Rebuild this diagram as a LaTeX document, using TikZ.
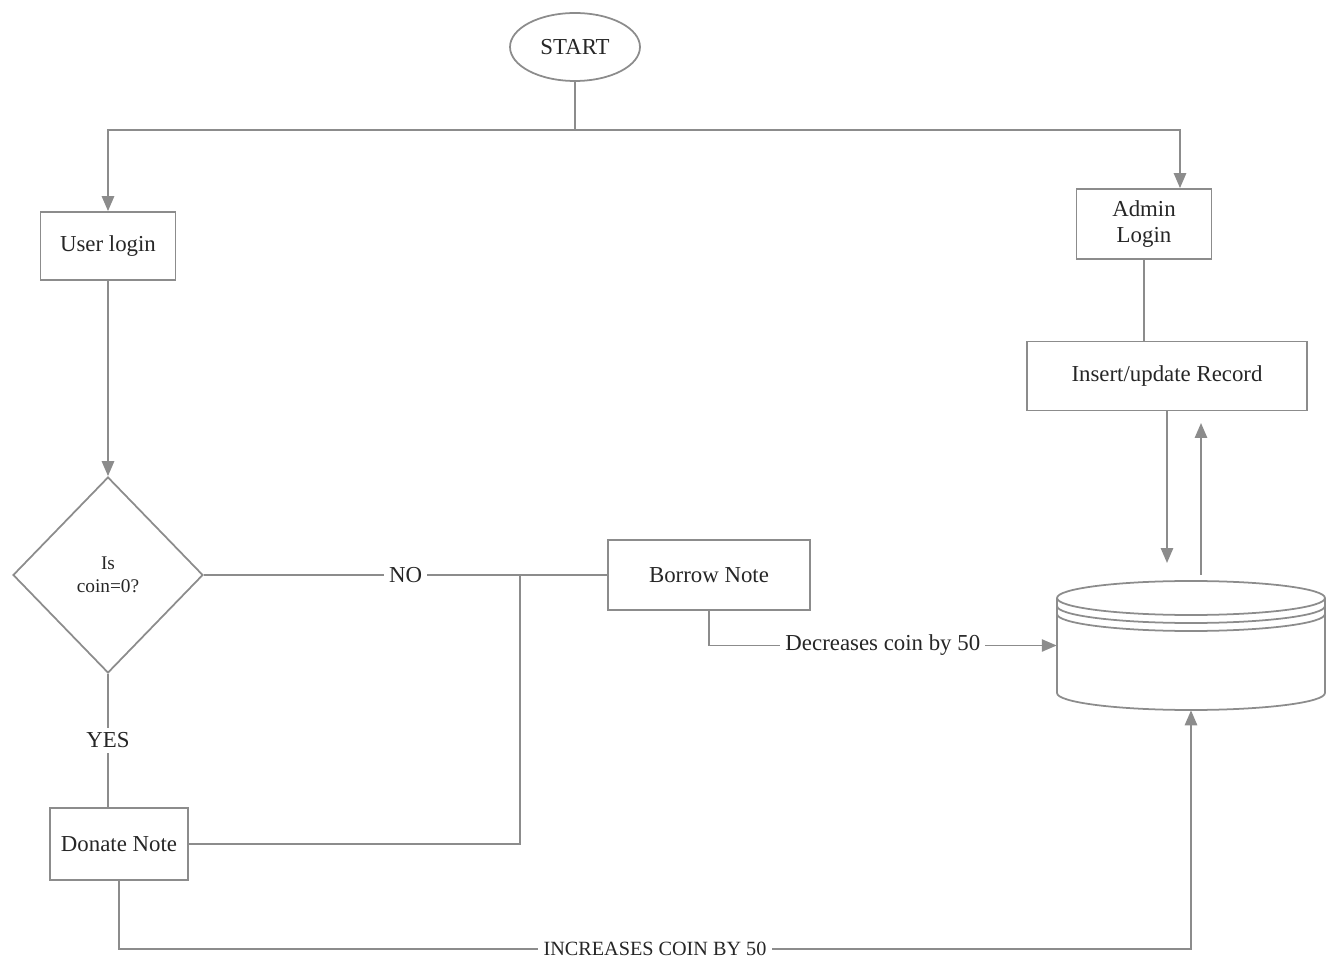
\documentclass[tikz,border=0pt]{standalone}
\usepackage{fontspec}
\setmainfont{Liberation Serif}
\usetikzlibrary{shapes.geometric, arrows.meta, positioning}
\tikzset{
  line/.style={draw=black!45, line width=1pt},
  arr/.style={line, -{Triangle[length=8.5pt, width=7pt]}},
  stepbox/.style={rectangle, draw=black!45, line width=1pt, align=center, inner sep=2pt},
  lbl/.style={fill=white, inner sep=3pt, text=black!85}
}
\begin{document}
\begin{tikzpicture}[x=0.02cm, y=0.02cm, every node/.style={font=\fontsize{13}{15}\selectfont, text=black!85}]
  \useasboundingbox (0,0) rectangle (1332,961);
  % nodes
  \node[ellipse, draw=black!45, line width=1pt, minimum width=2.6cm, minimum height=1.36cm] (start) at (575,914) {START};
  \node[stepbox, minimum width=2.7cm, minimum height=1.36cm] (user) at (108,715) {User login};
  \node[stepbox, minimum width=2.7cm, minimum height=1.4cm] (admin) at (1144,737) {Admin\\Login};
  \node[stepbox, minimum width=5.6cm, minimum height=1.38cm] (insert) at (1167,585) {Insert/update Record};
  \node[diamond, draw=black!45, line width=1pt, aspect=1, minimum width=3.8cm, minimum height=3.92cm, align=center,
        font=\fontsize{11}{13}\selectfont] (check) at (108,386) {Is\\coin=0?};
  \node[stepbox, minimum width=4.04cm, minimum height=1.4cm] (borrow) at (709,386) {Borrow Note};
  \node[stepbox, minimum width=2.76cm, minimum height=1.44cm] (donate) at (119,117) {Donate Note};
  % database
  \node[minimum width=5.36cm, minimum height=2.58cm, inner sep=0pt] (db) at (1191,315.5) {};
  \draw[line] (1191,363) ellipse (2.68cm and 0.34cm);
  \draw[line] (1057,355) arc (180:360:2.68cm and 0.34cm);
  \draw[line] (1057,347) arc (180:360:2.68cm and 0.34cm);
  \draw[line] (1057,363) -- (1057,268) arc (180:360:2.68cm and 0.34cm) -- (1325,363);
  % top split
  \coordinate (split) at (575,831);
  \draw[line] (start.south) -- (split);
  \draw[arr] (split) -| (user.north);
  \draw[arr] (split) -| ([xshift=0.72cm]admin.north);
  % admin side
  \draw[line] (admin.south) -- (admin.south |- insert.north);
  \coordinate (dbin) at (1167,398);
  \coordinate (dbout) at (1201,386);
  \coordinate (insin) at (1201,538);
  \draw[arr] (insert.south) -- (dbin);
  \draw[arr] (dbout) -- (insin);
  % user side
  \draw[arr] (user.south) -- (check.north);
  \coordinate (joint) at (520,386);
  \draw[line] (check.east) -- node[lbl] {NO} (borrow.west);
  \draw[line] (donate.east) -| (joint);
  \draw[line] (check.south) -- node[lbl] {YES} (check.south |- donate.north);
  \draw[arr] (borrow.south) |- node[lbl, pos=0.75] {Decreases coin by 50} (db.west);
  \draw[arr] (donate.south) -- ++(0,-68) -| node[lbl, pos=0.25, font=\fontsize{11.5}{13}\selectfont] {INCREASES COIN BY 50} (db.south);
\end{tikzpicture}
\end{document}
